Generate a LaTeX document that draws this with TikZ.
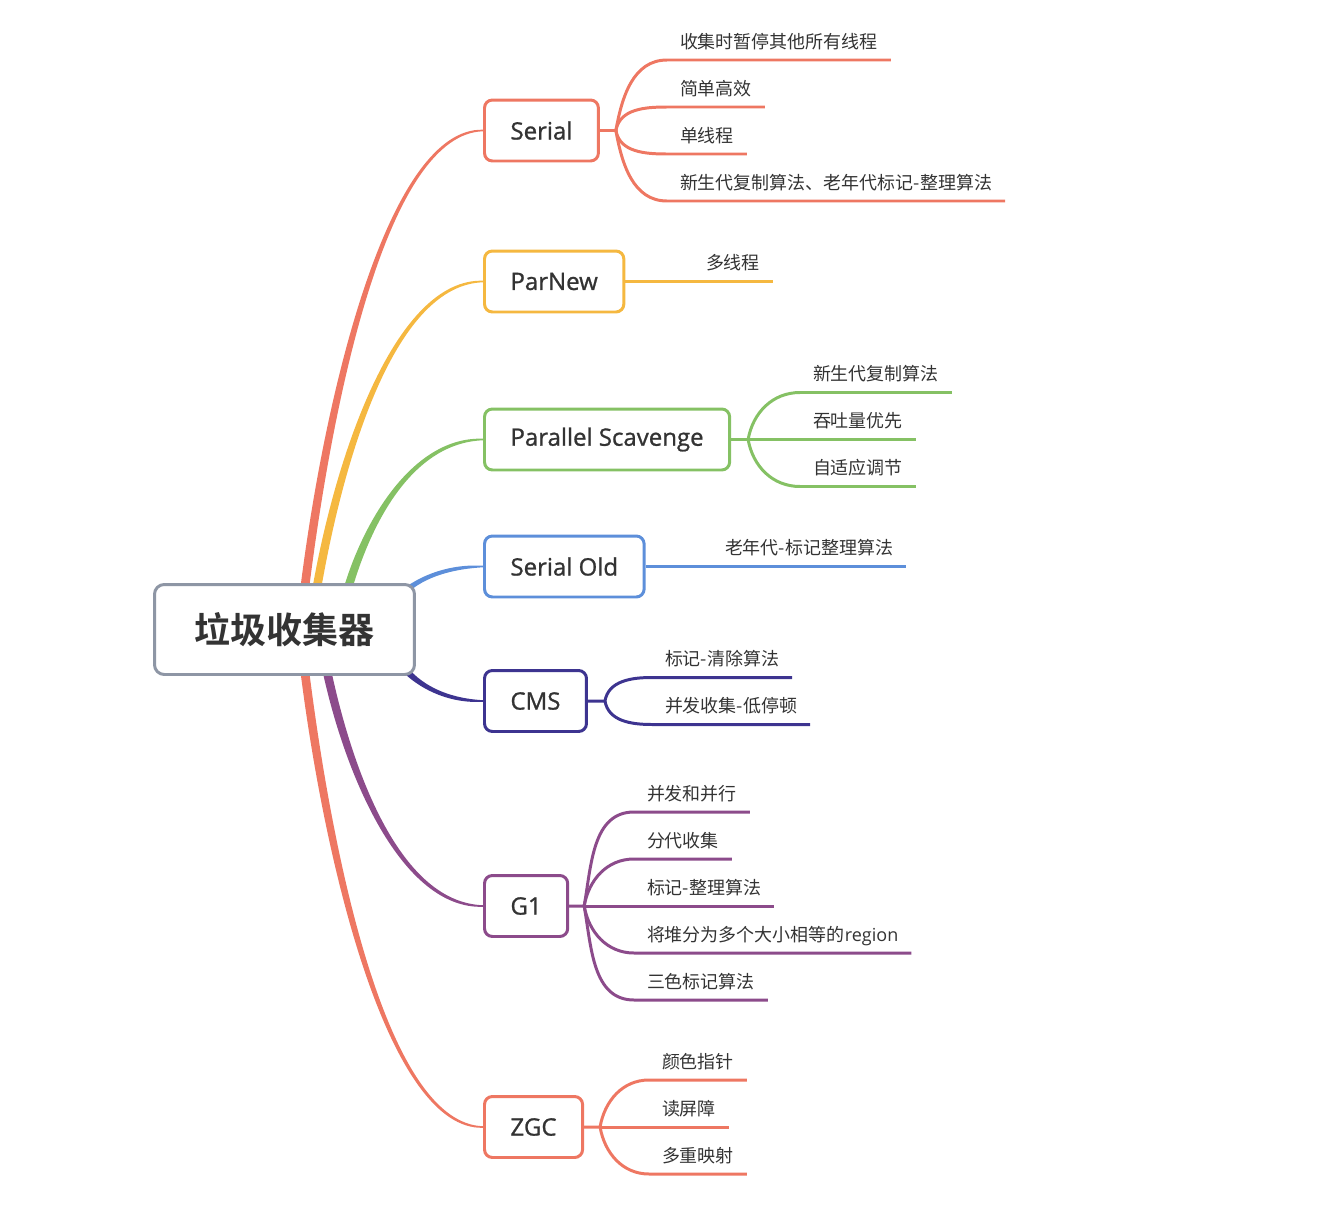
\documentclass[tikz,border=0pt]{standalone}
\usepackage{fontspec}
\setmainfont{Open Sans}
\newfontfamily\boxfont{Open Sans}[FakeBold=1]
\newfontfamily\cjk{Noto Sans CJK SC}[BoldFont={Noto Sans CJK SC Bold}]
\usetikzlibrary{calc,backgrounds}
\definecolor{gcred}{HTML}{EE7762}
\definecolor{gcyellow}{HTML}{F5B840}
\definecolor{gcgreen}{HTML}{85C164}
\definecolor{gcblue}{HTML}{5D8FDA}
\definecolor{gcindigo}{HTML}{3D3490}
\definecolor{gcpurple}{HTML}{8C4B8B}
\definecolor{gcgray}{HTML}{8E96A5}
\definecolor{gctext}{HTML}{333333}
% tapered main branch: colour, start point, target node, half width at start
\newcommand\limb[4]{\fill[#1] let \p1=(#2), \p2=(#3.west), \n1={\x2-\x1}, \n2={\y2-\y1}, \n3={sign(\n2)} in
  (\x1-#4,\y1) .. controls ({\x1-#4+0.145*\n1},{\y1+0.45*\n2}) and ({\x1+0.48*\n1},{\y2+1.9*\n3}) .. ({\x2},{\y2+0.45*\n3})
  -- ({\x2},{\y2-0.45*\n3}) .. controls ({\x1+0.48*\n1},{\y2-1.9*\n3}) and ({\x1+#4+0.145*\n1},{\y1+0.45*\n2}) .. (\x1+#4,\y1) -- cycle;}
\begin{document}
\begin{tikzpicture}[x=0.02cm,y=0.02cm,
  box/.style={draw=#1,line width=1.7pt,rounded corners=4.5pt,fill=white,anchor=west,minimum height=1.22cm,inner xsep=0.52cm,text=gctext,font=\boxfont\fontsize{13.66}{16}\selectfont},
  leaf/.style={anchor=south west,inner xsep=0.26cm,inner ysep=0.24cm,outer sep=0pt,text depth=0pt,text=gctext,font=\cjk\fontsize{10.24}{12}\selectfont},
  twig/.style={draw=#1,line width=1.7pt}]
\useasboundingbox (0,0) rectangle (1340,-1224);
\node[draw=gcgray,line width=1.7pt,rounded corners=5.5pt,fill=white,minimum width=5.2cm,minimum height=1.8cm,text=gctext,font=\cjk\bfseries\fontsize{20.5}{24}\selectfont] (root) at (284.5,-629.5) {垃圾收集器};
\node[box=gcred] (serial) at (483,-130.5) {Serial}; \node[box=gcyellow] (parnew) at (483,-281.5) {ParNew};
\node[box=gcgreen] (scav) at (483,-439.5) {Parallel Scavenge}; \node[box=gcblue] (sold) at (483,-566.5) {Serial Old};
\node[box=gcindigo] (cms) at (483,-701) {CMS}; \node[box=gcpurple] (gone) at (483,-906) {G1}; \node[box=gcred] (zgc) at (483,-1127) {ZGC};
\begin{scope}[on background layer]
\limb{gcred}{$(root.north)+(20,-7)$}{serial}{2.5pt} \limb{gcyellow}{$(root.north)+(32,-7)$}{parnew}{2.5pt}
\limb{gcgreen}{$(root.north)+(63,-7)$}{scav}{2.5pt} \limb{gcblue}{$(root.north)+(113.5,-15)$}{sold}{2.6pt}
\limb{gcindigo}{$(root.south)+(113.5,15)$}{cms}{2.6pt} \limb{gcpurple}{$(root.south)+(42,7)$}{gone}{2.5pt}
\limb{gcred}{$(root.south)+(20,7)$}{zgc}{2.5pt}
\end{scope}
% Serial
\coordinate (serial-fan) at ($(serial.east)+(16,0)$);
\node[leaf] (serial-1) at (667,-60) {收集时暂停其他所有线程}; \node[leaf] (serial-2) at (667,-107) {简单高效};
\node[leaf] (serial-3) at (667,-154) {单线程}; \node[leaf] (serial-4) at (667,-201) {新生代复制算法、老年代标记-整理算法};
\draw[twig=gcred] (serial.east) -- (serial-fan) to[out=80,in=180] (serial-1.south west) -- (serial-1.south east);
\draw[twig=gcred] (serial-fan) to[out=80,in=180] (serial-2.south west) -- (serial-2.south east);
\draw[twig=gcred] (serial-fan) to[out=-80,in=180] (serial-3.south west) -- (serial-3.south east);
\draw[twig=gcred] (serial-fan) to[out=-80,in=180] (serial-4.south west) -- (serial-4.south east);
% ParNew
\node[leaf] (parnew-1) at (693,-281.5) {多线程};
\draw[twig=gcyellow] (parnew.east) -- (parnew-1.south west) -- (parnew-1.south east);
% Parallel Scavenge
\coordinate (scav-fan) at ($(scav.east)+(17,0)$);
\node[leaf] (scav-1) at (800,-392.5) {新生代复制算法}; \node[leaf] (scav-2) at (800,-439.5) {吞吐量优先}; \node[leaf] (scav-3) at (800,-486.5) {自适应调节};
\draw[twig=gcgreen] (scav.east) -- (scav-fan) to[out=80,in=180] (scav-1.south west) -- (scav-1.south east);
\draw[twig=gcgreen] (scav-fan) -- (scav-2.south west) -- (scav-2.south east);
\draw[twig=gcgreen] (scav-fan) to[out=-80,in=180] (scav-3.south west) -- (scav-3.south east);
% Serial Old
\node[leaf] (sold-1) at (712,-566.5) {老年代-标记整理算法};
\draw[twig=gcblue] (sold.east) -- (sold-1.south west) -- (sold-1.south east);
% CMS
\coordinate (cms-fan) at ($(cms.east)+(17,0)$);
\node[leaf] (cms-1) at (652,-677.5) {标记-清除算法}; \node[leaf] (cms-2) at (652,-724.5) {并发收集-低停顿};
\draw[twig=gcindigo] (cms.east) -- (cms-fan) to[out=80,in=180] (cms-1.south west) -- (cms-1.south east);
\draw[twig=gcindigo] (cms-fan) to[out=-80,in=180] (cms-2.south west) -- (cms-2.south east);
% G1
\coordinate (gone-fan) at ($(gone.east)+(15,0)$);
\node[leaf] (gone-1) at (634,-812) {并发和并行}; \node[leaf] (gone-2) at (634,-859) {分代收集}; \node[leaf] (gone-3) at (634,-906) {标记-整理算法};
\node[leaf] (gone-4) at (634,-953) {将堆分为多个大小相等的{\rmfamily region}}; \node[leaf] (gone-5) at (634,-1000) {三色标记算法};
\draw[twig=gcpurple] (gone.east) -- (gone-fan) to[out=80,in=180] (gone-1.south west) -- (gone-1.south east);
\draw[twig=gcpurple] (gone-fan) to[out=80,in=180] (gone-2.south west) -- (gone-2.south east);
\draw[twig=gcpurple] (gone-fan) -- (gone-3.south west) -- (gone-3.south east);
\draw[twig=gcpurple] (gone-fan) to[out=-80,in=180] (gone-4.south west) -- (gone-4.south east);
\draw[twig=gcpurple] (gone-fan) to[out=-80,in=180] (gone-5.south west) -- (gone-5.south east);
% ZGC
\coordinate (zgc-fan) at ($(zgc.east)+(16,0)$);
\node[leaf] (zgc-1) at (649,-1080) {颜色指针}; \node[leaf] (zgc-2) at (649,-1127) {读屏障}; \node[leaf] (zgc-3) at (649,-1174) {多重映射};
\draw[twig=gcred] (zgc.east) -- (zgc-fan) to[out=80,in=180] (zgc-1.south west) -- (zgc-1.south east);
\draw[twig=gcred] (zgc-fan) -- (zgc-2.south west) -- (zgc-2.south east);
\draw[twig=gcred] (zgc-fan) to[out=-80,in=180] (zgc-3.south west) -- (zgc-3.south east);
\end{tikzpicture}
\end{document}
